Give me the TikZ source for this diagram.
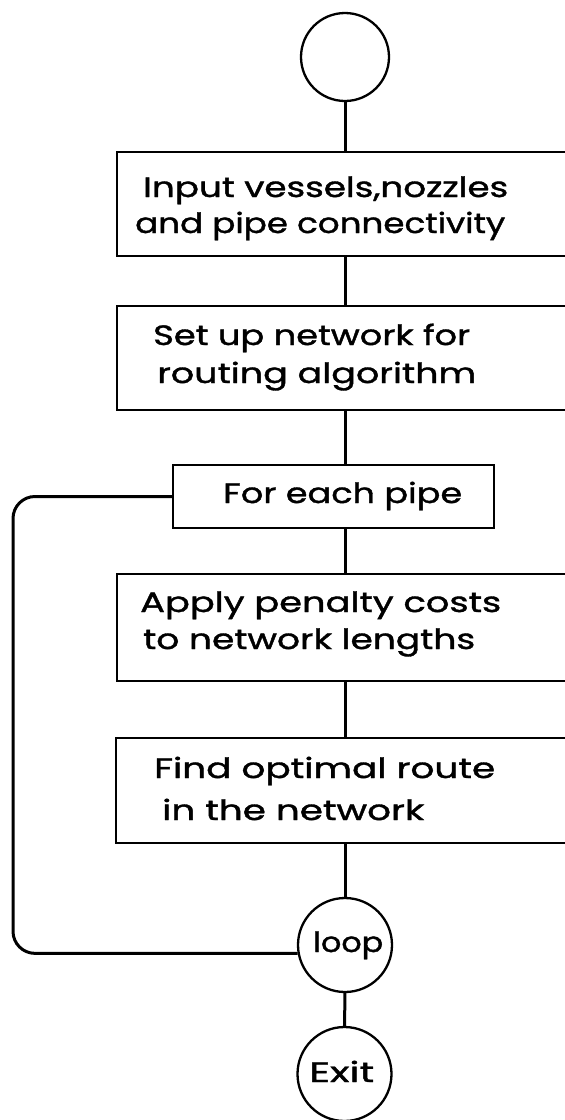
\documentclass[tikz,border=0pt]{standalone}
\usepackage{fontspec}
\usepackage{graphicx}
\setmainfont{Poppins}
\newfontfamily\stencil{Poppins}[FakeBold=1.2]
\newcommand\fitline[2]{\resizebox{#1}{\height}{#2}}
\begin{document}
\begin{tikzpicture}[x=1pt,y=-1pt,
  box/.style={draw,line width=2.4pt,rectangle,inner sep=0pt},
  term/.style={draw,line width=2.3pt,circle,inner sep=0pt,minimum size=94pt},
  conn/.style={line width=3pt},
  lbl/.style={anchor=base west,inner sep=0pt,font=\stencil\fontsize{28}{34}\selectfont}]
\useasboundingbox (0,0) rectangle (565,1120);
\clip (0,0) rectangle (565,1120);

% terminals
\node[term,minimum size=88pt] (start) at (345,57) {};
\node[term] (loop) at (345,945) {};
\node[term] (exit) at (344.5,1074) {};

% process boxes (they run off the right-hand edge)
\node[box,minimum width=483pt,minimum height=104pt] (b1) at (358.5,204) {};
\node[box,minimum width=483pt,minimum height=104pt] (b2) at (358.5,358) {};
\node[box,minimum width=321pt,minimum height=63pt] (b3) at (333.5,496.5) {};
\node[box,minimum width=483pt,minimum height=107pt] (b4) at (358.5,627.5) {};
\node[box,minimum width=484pt,minimum height=105pt] (b5) at (358,790.5) {};

% texts
\node[lbl] (t1a) at (143,197) {\fitline{365pt}{Input vessels,nozzles}};
\node[lbl] (t1b) at (135,233) {\fitline{370pt}{and pipe connectivity}};
\node[lbl] (t2a) at (153,345) {\fitline{317pt}{Set up network for}};
\node[lbl] (t2b) at (157,383) {\fitline{319pt}{routing algorithm}};
\node[lbl] (t3)  at (223,503) {\fitline{239pt}{For each pipe}};
\node[lbl] (t4a) at (140,612) {\fitline{361pt}{Apply penalty costs}};
\node[lbl] (t4b) at (143,649) {\fitline{332pt}{to network lengths}};
\node[lbl] (t5a) at (154,778) {\fitline{341pt}{Find optimal route}};
\node[lbl] (t5b) at (162,820) {\fitline{262pt}{in the network}};
\node[lbl] (tl)  at (313,952) {\fitline{70pt}{loop}};
\node[lbl] (te)  at (309,1082) {\fitline{65pt}{Exit}};

% flow lines
\coordinate (lx) at (13,700);
\draw[conn] (start) -- (start |- b1.north);
\draw[conn] (b1.south -| start) -- (b2.north -| start);
\draw[conn] (b2.south -| start) -- (b3.north -| start);
\draw[conn] (b3.south -| start) -- (b4.north -| start);
\draw[conn] (b4.south -| start) -- (b5.north -| start);
\draw[conn] (b5.south -| loop) -- (loop);
\draw[conn] (loop) -- (exit);
\draw[conn,rounded corners=22pt] (b3.west) -- (b3.west -| lx) |- (loop.190);
\end{tikzpicture}
\end{document}
